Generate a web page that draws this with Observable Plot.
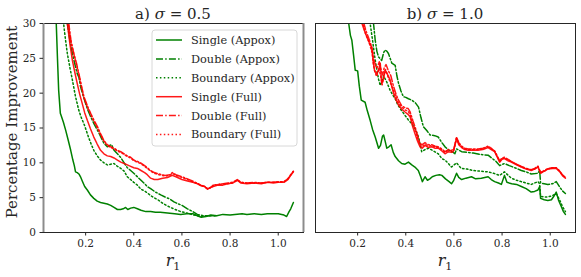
<!DOCTYPE html>
<html><head><meta charset="utf-8">
<script src="https://cdn.jsdelivr.net/npm/d3@7"></script>
<script src="https://cdn.jsdelivr.net/npm/@observablehq/plot@0.6"></script>
<style>
body{margin:0;background:#fff;}
#wrap{position:relative;width:581px;height:277px;}
#wrap svg{position:absolute;top:0;}
</style></head><body><div id="wrap"></div>
<script>
const xTicks = [0.2, 0.4, 0.6, 0.8, 1.0];
const yTicks = [0, 5, 10, 15, 20, 25, 30];
const seriesNames = ["Single (Appox)", "Double (Appox)", "Boundary (Appox)", "Single (Full)", "Double (Full)", "Boundary (Full)"];
const seriesColors = ["green", "green", "green", "red", "red", "red"];
const seriesStyles = ["solid", "dashdot", "dotted", "solid", "dashdot", "dotted"];
const panelTitles = [["a) ", "σ", " = 0.5"], ["b) ", "σ", " = 1.0"]];

// Panel a) sigma = 0.5  : [r1, percentage improvement]
const aSingleApprox = [[0.072,32],[0.078,30],[0.083,25],[0.088,20.4],[0.095,17.1],[0.1,16.6],[0.108,15.8],[0.117,14.7],[0.128,13.2],[0.138,11.8],[0.147,10.4],[0.153,9.6],[0.158,8.7],[0.165,8.6],[0.172,8.4],[0.18,7.9],[0.186,7.4],[0.196,6.6],[0.207,6.1],[0.22,5.4],[0.234,4.9],[0.248,4.5],[0.262,4.3],[0.276,4.2],[0.29,4.1],[0.304,3.9],[0.318,3.6],[0.332,3.3],[0.345,3.3],[0.356,3.4],[0.366,3.6],[0.375,3.3],[0.387,3.5],[0.4,3.6],[0.415,3.4],[0.43,3.2],[0.45,3.0],[0.47,3.0],[0.49,2.9],[0.51,2.9],[0.54,2.8],[0.57,2.7],[0.595,2.6],[0.62,2.7],[0.645,2.7],[0.664,2.4],[0.68,2.2],[0.7,2.3],[0.72,2.5],[0.745,2.4],[0.77,2.6],[0.8,2.5],[0.82,2.6],[0.85,2.7],[0.87,2.6],[0.9,2.7],[0.93,2.6],[0.955,2.7],[0.98,2.7],[1.0,2.7],[1.024,2.5],[1.035,2.3],[1.045,3.0],[1.052,3.4],[1.063,4.3]];
const aDoubleApprox = [[0.118,32],[0.124,30],[0.135,27.5],[0.145,25.7],[0.155,24.2],[0.165,22.8],[0.172,22.3],[0.179,20.9],[0.19,19.6],[0.2,18.5],[0.21,17.5],[0.221,16.6],[0.235,15.6],[0.249,14.7],[0.262,13.8],[0.276,12.8],[0.29,12.3],[0.3,12.5],[0.308,12.6],[0.318,11.8],[0.332,11.3],[0.345,10.8],[0.36,10.0],[0.373,9.3],[0.387,8.9],[0.4,8.5],[0.415,8.0],[0.43,7.5],[0.445,7.0],[0.456,6.6],[0.47,6.3],[0.49,5.8],[0.512,5.4],[0.53,5.1],[0.55,4.8],[0.567,4.4],[0.585,4.1],[0.6,3.9],[0.623,3.4],[0.645,3.0],[0.664,2.6],[0.69,2.4],[0.72,2.4],[0.75,2.4]];
const aBoundaryApprox = [[0.104,32],[0.11,29.5],[0.117,27.5],[0.124,25.7],[0.135,23.6],[0.145,21.9],[0.158,19.5],[0.172,17.5],[0.183,16.4],[0.193,15.6],[0.204,14.5],[0.214,13.5],[0.224,12.6],[0.234,11.8],[0.248,11.0],[0.262,10.4],[0.276,10.0],[0.29,9.7],[0.304,9.8],[0.318,9.9],[0.332,9.5],[0.346,9.2],[0.36,8.8],[0.373,8.0],[0.387,7.6],[0.4,7.2],[0.415,6.8],[0.43,6.2],[0.443,6.0],[0.456,5.7],[0.47,5.3],[0.484,5.0],[0.5,4.7],[0.52,4.2],[0.54,3.8],[0.565,3.4],[0.595,3.0],[0.62,2.8],[0.65,2.5],[0.68,2.3],[0.71,2.4],[0.74,2.4]];
const aSingleFull = [[0.118,32],[0.124,30],[0.135,27],[0.145,24.7],[0.155,23],[0.165,21.4],[0.175,19.9],[0.186,18.5],[0.196,17.2],[0.207,16.1],[0.22,14.9],[0.234,13.7],[0.248,12.7],[0.262,11.8],[0.276,11.3],[0.29,11.0],[0.304,10.9],[0.318,10.7],[0.332,10.4],[0.346,10.1],[0.36,9.9],[0.38,9.6],[0.4,9.3],[0.415,9.2],[0.43,8.9],[0.445,8.6],[0.456,8.3],[0.47,7.8],[0.485,7.6],[0.5,7.6],[0.52,7.8],[0.54,7.9],[0.56,8.2],[0.575,8.0],[0.6,7.6],[0.623,7.4],[0.645,7.2],[0.665,7.0],[0.68,6.7],[0.695,6.6],[0.706,6.2],[0.715,6.4],[0.73,6.6],[0.75,6.8],[0.77,6.8],[0.79,7.0],[0.81,7.1],[0.83,7.5],[0.845,7.1],[0.87,7.0],[0.9,7.1],[0.93,7.0],[0.955,7.2],[0.98,7.1],[1.0,7.2],[1.024,7.2],[1.04,7.6],[1.05,8.1],[1.063,8.7]];
const aDoubleFull = [[0.124,32],[0.13,30],[0.14,27.3],[0.151,25.7],[0.162,24.3],[0.172,22.8],[0.183,21.0],[0.193,19.5],[0.207,18.2],[0.221,17.1],[0.235,16.1],[0.249,15.2],[0.262,14.2],[0.276,13.2],[0.29,12.6],[0.304,12.3],[0.318,12.1],[0.332,11.8],[0.346,11.6],[0.36,11.3],[0.373,11.0],[0.387,10.8],[0.4,10.4],[0.415,10.2],[0.428,10.0],[0.445,9.6],[0.456,9.3],[0.47,8.9],[0.485,8.6],[0.505,8.4],[0.53,8.2],[0.55,8.3],[0.56,8.6],[0.575,8.3],[0.6,8.0],[0.623,7.7],[0.65,7.3],[0.678,6.8],[0.695,6.6],[0.706,6.3],[0.72,6.5],[0.73,6.8],[0.75,6.9],[0.79,7.1],[0.81,7.2],[0.83,7.6],[0.845,7.2],[0.87,7.1],[0.9,7.2],[0.93,7.1],[0.955,7.2],[0.98,7.2],[1.0,7.3],[1.024,7.3],[1.04,7.7],[1.05,8.2],[1.063,8.8]];
const aBoundaryFull = [[0.122,32],[0.128,30],[0.138,27.6],[0.149,25.9],[0.16,24.3],[0.172,22.6],[0.183,20.8],[0.193,19.3],[0.207,18.0],[0.221,16.9],[0.235,15.9],[0.249,15.0],[0.262,14.0],[0.276,13.1],[0.29,12.5],[0.304,12.2],[0.318,12.0],[0.332,11.7],[0.346,11.5],[0.36,11.2],[0.373,10.9],[0.387,10.7],[0.4,10.3],[0.415,10.1],[0.428,9.9],[0.445,9.5],[0.456,9.2],[0.47,8.8],[0.485,8.5],[0.505,8.3],[0.53,8.1],[0.55,8.2],[0.56,8.5],[0.575,8.2],[0.6,7.9],[0.623,7.6],[0.65,7.2],[0.678,6.8],[0.695,6.5],[0.706,6.3],[0.72,6.4],[0.73,6.7],[0.75,6.9],[0.79,7.0],[0.81,7.1],[0.83,7.5],[0.845,7.2],[0.87,7.1],[0.9,7.1],[0.93,7.1],[0.955,7.2],[0.98,7.2],[1.0,7.2],[1.024,7.3],[1.04,7.7],[1.05,8.2],[1.063,8.8]];

// Panel b) sigma = 1.0
const bSingleApprox = [[0.16,32],[0.163,30],[0.17,28.3],[0.176,27.6],[0.183,25.5],[0.19,23.3],[0.2,23.2],[0.207,21.0],[0.215,19.0],[0.231,18.7],[0.24,17.5],[0.252,16.1],[0.262,14.8],[0.273,13.7],[0.287,12.1],[0.295,12.5],[0.303,13.8],[0.308,14.0],[0.315,13.0],[0.321,12.1],[0.33,12.3],[0.339,12.6],[0.348,11.5],[0.356,10.9],[0.37,10.3],[0.383,9.9],[0.397,9.8],[0.411,10.1],[0.425,9.7],[0.438,9.4],[0.452,8.9],[0.462,8.0],[0.469,7.3],[0.48,8.0],[0.49,7.5],[0.5,7.7],[0.51,8.0],[0.525,8.2],[0.54,8.3],[0.55,8.2],[0.565,7.7],[0.58,7.3],[0.59,7.0],[0.598,7.4],[0.611,8.5],[0.62,7.9],[0.632,7.6],[0.65,7.8],[0.673,8.0],[0.69,7.7],[0.714,7.8],[0.742,8.0],[0.755,7.6],[0.769,7.3],[0.785,7.1],[0.797,6.9],[0.81,8.2],[0.82,7.2],[0.84,7.0],[0.86,6.9],[0.88,6.6],[0.9,6.3],[0.921,5.8],[0.935,5.9],[0.949,6.1],[0.956,6.6],[0.96,4.9],[0.975,4.7],[0.99,4.6],[1.005,4.7],[1.015,5.2],[1.025,5.8],[1.035,4.6],[1.045,3.8],[1.055,3.0],[1.063,2.6]];
const bDoubleApprox = [[0.262,32],[0.266,30],[0.273,27.6],[0.28,26.0],[0.287,25.2],[0.3,24.7],[0.308,25.8],[0.314,26.2],[0.322,26.0],[0.328,25.7],[0.342,24.3],[0.356,24.0],[0.363,22.5],[0.37,21.4],[0.38,20.3],[0.39,19.5],[0.4,19.4],[0.411,19.2],[0.425,19.0],[0.44,18.6],[0.453,18.0],[0.463,16.5],[0.473,15.2],[0.488,14.6],[0.501,14.0],[0.52,13.9],[0.535,13.7],[0.55,12.9],[0.563,12.3],[0.58,11.8],[0.597,11.5],[0.604,11.3],[0.611,12.0],[0.632,11.6],[0.66,11.5],[0.68,11.4],[0.71,11.2],[0.742,11.1],[0.76,10.6],[0.775,10.2],[0.79,9.6],[0.81,9.9],[0.83,9.6],[0.86,9.2],[0.88,8.9],[0.9,8.7],[0.921,8.4],[0.949,8.5],[0.956,8.9],[0.96,7.1],[0.975,7.0],[0.99,6.9],[1.01,7.0],[1.025,7.3],[1.04,6.5],[1.05,6.0],[1.063,5.6]];
const bBoundaryApprox = [[0.249,32],[0.252,30],[0.262,27.6],[0.272,25],[0.28,23.3],[0.287,22.0],[0.294,21.1],[0.302,21.8],[0.308,22.5],[0.315,22.0],[0.321,21.6],[0.335,20.4],[0.345,19.8],[0.356,19.2],[0.366,18.4],[0.376,17.8],[0.387,17.3],[0.397,16.8],[0.41,16.2],[0.425,15.6],[0.44,14.8],[0.453,13.7],[0.46,12.6],[0.466,11.6],[0.48,11.9],[0.494,12.1],[0.51,11.8],[0.535,11.3],[0.55,10.6],[0.563,10.4],[0.577,9.9],[0.59,9.4],[0.611,10.0],[0.63,9.2],[0.655,9.1],[0.68,8.9],[0.71,8.8],[0.742,8.7],[0.765,8.5],[0.79,8.2],[0.81,8.7],[0.838,7.8],[0.86,7.5],[0.88,7.3],[0.9,7.1],[0.921,6.9],[0.949,7.3],[0.956,7.0],[0.96,5.2],[0.975,5.1],[0.99,5.1],[1.01,5.3],[1.025,5.6],[1.04,4.6],[1.05,3.8],[1.063,3.0]];
const bSingleFull = [[0.214,32],[0.218,30],[0.228,29.0],[0.238,28.1],[0.249,27.2],[0.259,26.6],[0.265,24.5],[0.27,23.3],[0.277,22.8],[0.287,23.2],[0.294,24.3],[0.3,21.4],[0.307,22.0],[0.314,23.3],[0.324,22.7],[0.335,21.9],[0.349,20.0],[0.36,19.0],[0.37,18.3],[0.383,17.7],[0.397,17.3],[0.408,17.0],[0.418,16.6],[0.428,15.3],[0.438,14.2],[0.449,13.1],[0.459,12.3],[0.468,12.1],[0.48,12.5],[0.494,12.2],[0.508,12.3],[0.522,12.1],[0.535,12.1],[0.55,11.7],[0.563,11.3],[0.577,11.6],[0.59,11.5],[0.597,11.6],[0.611,13.5],[0.62,12.6],[0.632,12.2],[0.645,11.9],[0.659,11.8],[0.68,11.8],[0.7,11.8],[0.72,11.9],[0.742,12.2],[0.755,11.9],[0.769,11.6],[0.78,10.8],[0.79,10.1],[0.8,10.5],[0.81,10.6],[0.825,10.3],[0.838,10.1],[0.86,9.7],[0.88,9.4],[0.9,9.1],[0.921,8.9],[0.935,9.1],[0.949,9.4],[0.96,8.5],[0.975,8.8],[0.99,9.1],[1.01,9.2],[1.025,9.2],[1.04,8.7],[1.05,8.2],[1.063,7.8]];
const bDoubleFull = [[0.222,32],[0.226,30],[0.235,28.9],[0.245,28.0],[0.255,27.0],[0.262,26.0],[0.268,24.8],[0.274,24.0],[0.28,23.6],[0.29,24.5],[0.297,23.4],[0.304,22.6],[0.31,23.6],[0.318,24.1],[0.328,23.2],[0.338,22.5],[0.349,21.0],[0.36,19.8],[0.37,19.0],[0.383,18.2],[0.397,17.9],[0.41,17.8],[0.418,17.3],[0.43,16.0],[0.44,15.0],[0.45,13.8],[0.459,12.8],[0.468,12.6],[0.48,12.9],[0.494,12.6],[0.508,12.6],[0.522,12.4],[0.535,12.3],[0.55,12.0],[0.563,11.6],[0.577,11.9],[0.59,11.8],[0.6,12.0],[0.611,13.7],[0.62,12.9],[0.632,12.4],[0.645,12.1],[0.66,12.0],[0.68,12.0],[0.7,12.0],[0.72,12.1],[0.742,12.4],[0.755,12.1],[0.769,11.7],[0.78,11.0],[0.79,10.3],[0.8,10.7],[0.81,10.8],[0.825,10.5],[0.838,10.2],[0.86,9.8],[0.88,9.5],[0.9,9.2],[0.921,9.0],[0.935,9.2],[0.949,9.5],[0.96,8.6],[0.975,8.9],[0.99,9.2],[1.01,9.3],[1.025,9.3],[1.04,8.8],[1.05,8.3],[1.063,7.9]];
const bBoundaryFull = [[0.218,32],[0.222,30],[0.232,28.6],[0.242,27.8],[0.252,26.8],[0.26,25.8],[0.266,24.0],[0.272,23.0],[0.279,22.4],[0.288,23.6],[0.295,22.6],[0.302,21.2],[0.309,22.4],[0.316,23.4],[0.326,22.4],[0.336,21.5],[0.349,20.4],[0.36,19.4],[0.37,18.6],[0.383,18.0],[0.397,17.6],[0.41,17.4],[0.418,16.9],[0.43,15.6],[0.44,14.6],[0.45,13.4],[0.459,12.6],[0.468,12.3],[0.48,12.7],[0.494,12.4],[0.508,12.5],[0.522,12.3],[0.535,12.2],[0.55,11.9],[0.563,11.5],[0.577,11.8],[0.59,11.7],[0.6,11.8],[0.611,13.6],[0.62,12.8],[0.632,12.3],[0.645,12.0],[0.66,11.9],[0.68,11.9],[0.7,11.9],[0.72,12.0],[0.742,12.3],[0.755,12.0],[0.769,11.7],[0.78,10.9],[0.79,10.2],[0.8,10.6],[0.81,10.7],[0.825,10.4],[0.838,10.2],[0.86,9.8],[0.88,9.4],[0.9,9.2],[0.921,9.0],[0.935,9.1],[0.949,9.5],[0.96,8.6],[0.975,8.8],[0.99,9.1],[1.01,9.3],[1.025,9.3],[1.04,8.8],[1.05,8.2],[1.063,7.9]];

const panelA = [aSingleApprox, aDoubleApprox, aBoundaryApprox, aSingleFull, aDoubleFull, aBoundaryFull];
const panelB = [bSingleApprox, bDoubleApprox, bBoundaryApprox, bSingleFull, bDoubleFull, bBoundaryFull];

const dashFor = {solid: null, dashdot: "7,2.2,1.5,2.2", dotted: "1.5,2.4"};
const TXT = "#262626";
const SERIF = "'DejaVu Serif', serif";

function panel(series, o) {
  const marks = series.map((data, i) => Plot.line(data, {
    x: d => d[0], y: d => d[1], stroke: seriesColors[i],
    strokeOpacity: seriesColors[i] === "red" ? 0.9 : 1,
    strokeWidth: 1.5, strokeDasharray: dashFor[seriesStyles[i]], clip: true
  }));
  marks.push(Plot.frame({stroke: "#262626", strokeWidth: 1}));
  if (o.graySides) marks.push(Plot.ruleX([0.025, 1.105], {stroke: "#8c8c8c", strokeWidth: 2}));
  marks.push(Plot.axisX({ticks: xTicks, tickFormat: d3.format(".1f"), tickSize: 3.5, tickPadding: 4, label: null, fontSize: 10.5}));
  marks.push(Plot.axisY({ticks: yTicks, tickSize: o.yLabels ? 3.5 : 0, tickFormat: o.yLabels ? (d => d) : (() => ""), tickPadding: 4, label: null, fontSize: 10.5}));
  return Plot.plot({
    width: o.width, height: 277,
    marginLeft: o.ml, marginRight: o.mr, marginTop: 23, marginBottom: 45,
    x: {domain: [0.025, 1.105]},
    y: {domain: [0, 30]},
    style: {color: TXT, background: "transparent", overflow: "visible", fontFamily: SERIF},
    marks
  });
}

const wrap = d3.select("#wrap");
const svgA = panel(panelA, {width: 310, ml: 43, mr: 7, yLabels: true, graySides: true});
const svgB = panel(panelB, {width: 271, ml: 5, mr: 6, yLabels: false, graySides: false});
svgA.style.left = "0px";
svgB.style.left = "310px";
wrap.node().appendChild(svgA);
wrap.node().appendChild(svgB);

function decorate(svg, cx, t) {
  const s = d3.select(svg);
  const title = s.append("text").attr("x", cx).attr("y", 18.5).attr("text-anchor", "middle")
    .attr("font-size", 15).attr("fill", TXT);
  title.append("tspan").text(t[0]);
  title.append("tspan").attr("font-style", "italic").text(t[1]);
  title.append("tspan").text(t[2]);
  const xl = s.append("text").attr("x", cx).attr("y", 266).attr("text-anchor", "middle")
    .attr("font-size", 16).attr("fill", TXT);
  xl.append("tspan").attr("font-style", "italic").text("r");
  xl.append("tspan").attr("font-size", 11).attr("dy", 3.5).text("1");
}
decorate(svgA, 173, panelTitles[0]);
decorate(svgB, 135, panelTitles[1]);

// y label
d3.select(svgA).append("text").attr("transform", "translate(17,122) rotate(-90)")
  .attr("text-anchor", "middle").attr("font-size", 15)
  .attr("fill", TXT).text("Percentage Improvement");

// legend
const lg = d3.select(svgA).append("g");
lg.append("rect").attr("x", 152).attr("y", 30).attr("width", 145).attr("height", 116)
  .attr("rx", 3).attr("fill", "white").attr("fill-opacity", 0.8).attr("stroke", "#d8d8d8");
seriesNames.forEach((name, i) => {
  const y = 40 + i * 18.9;
  lg.append("line").attr("x1", 156).attr("x2", 182).attr("y1", y).attr("y2", y)
    .attr("stroke", seriesColors[i]).attr("stroke-width", 1.5)
    .attr("stroke-opacity", seriesColors[i] === "red" ? 0.9 : 1)
    .attr("stroke-dasharray", dashFor[seriesStyles[i]]);
  lg.append("text").attr("x", 191).attr("y", y).attr("dy", "0.35em").attr("text-anchor", "start")
    .attr("font-size", 11.3).attr("fill", TXT).text(name);
});

d3.selectAll("#wrap svg text").style("font-family", SERIF);
</script></body></html>
